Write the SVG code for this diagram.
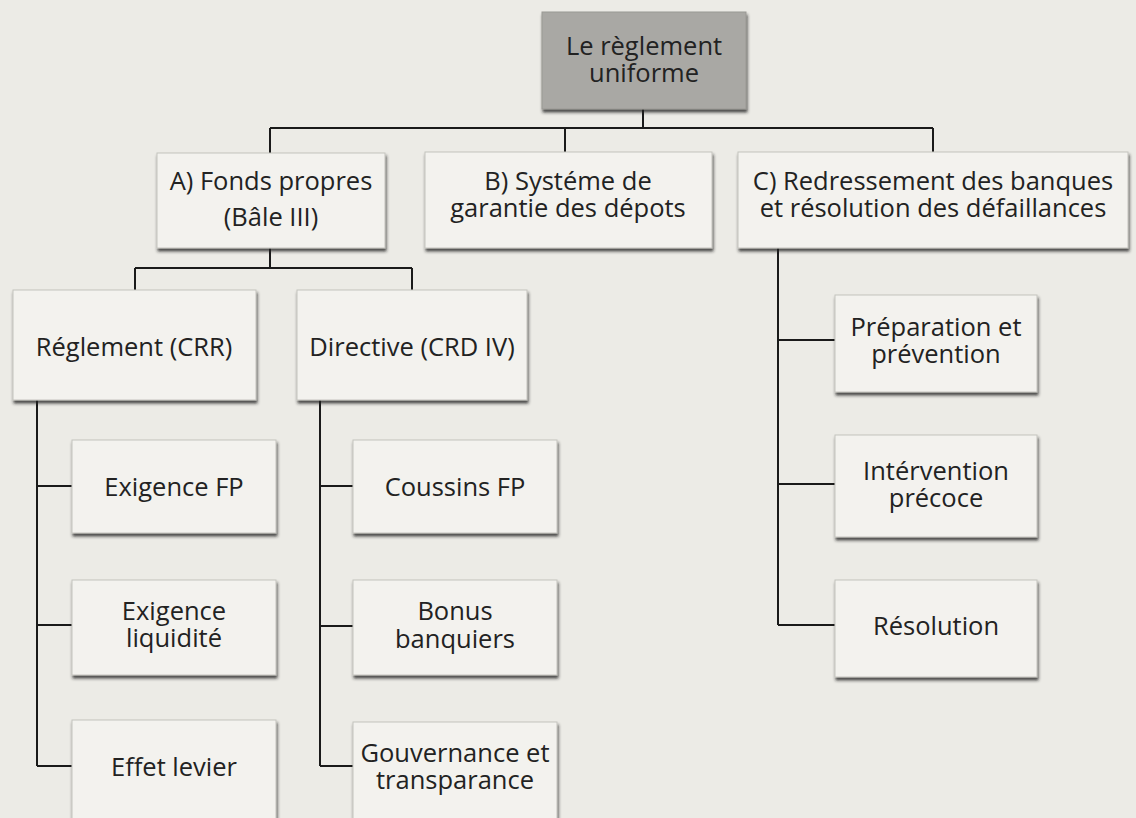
<svg xmlns="http://www.w3.org/2000/svg" width="1136" height="818" viewBox="0 0 1136 818">
<defs>
<filter id="sh" x="-5%" y="-5%" width="115%" height="125%">
<feDropShadow dx="1" dy="3" stdDeviation="1.5" flood-color="#222" flood-opacity="0.8"/>
</filter>
<style>
.box{fill:#f3f2ee;stroke:#c4c3be;stroke-width:1;filter:url(#sh)}
.root{fill:#a9a8a4;stroke:#9a9994;stroke-width:1;filter:url(#sh)}
.t{font-family:"Open Sans","Liberation Sans",sans-serif;font-size:25.5px;fill:#222;text-anchor:middle}
.c{stroke:#1a1a1a;stroke-width:2;fill:none}
</style>
</defs>
<rect width="1136" height="818" fill="#ecebe6"/>
<g id="connectors">
<path class="c" d="M643,109V128M270,128H933M270,128V153M565,128V152M933,128V152"/>
<path class="c" d="M270,248V268M135,268H412M135,268V290M412,268V290"/>
<path class="c" d="M37,400V766M37,486H72M37,625H72M37,766H72"/>
<path class="c" d="M320,400V766M320,486H353M320,626H353M320,766H353"/>
<path class="c" d="M778,248V625M778,340H835M778,484H835M778,625H835"/>
</g>
<g id="n-root"><rect class="root" x="542" y="12" width="204" height="97"/><text class="t" x="644" y="55">Le règlement</text><text class="t" x="644" y="82">uniforme</text></g>
<g id="n-a"><rect class="box" x="157" y="153" width="228" height="95"/><text class="t" x="271" y="190">A) Fonds propres</text><text class="t" x="271" y="226">(Bâle III)</text></g>
<g id="n-b"><rect class="box" x="425" y="152" width="287" height="96"/><text class="t" x="568" y="190">B) Systéme de</text><text class="t" x="568" y="217">garantie des dépots</text></g>
<g id="n-c"><rect class="box" x="738" y="152" width="390" height="96"/><text class="t" x="933" y="190">C) Redressement des banques</text><text class="t" x="933" y="217">et résolution des défaillances</text></g>
<g id="n-crr"><rect class="box" x="13" y="290" width="243" height="110"/><text class="t" x="134" y="356">Réglement (CRR)</text></g>
<g id="n-crd"><rect class="box" x="297" y="290" width="230" height="110"/><text class="t" x="412" y="356">Directive (CRD IV)</text></g>
<g id="n-efp"><rect class="box" x="72" y="440" width="204" height="93"/><text class="t" x="174" y="496">Exigence FP</text></g>
<g id="n-eliq"><rect class="box" x="72" y="580" width="204" height="95"/><text class="t" x="174" y="620">Exigence</text><text class="t" x="174" y="647">liquidité</text></g>
<g id="n-lev"><rect class="box" x="72" y="720" width="204" height="110"/><text class="t" x="174" y="776">Effet levier</text></g>
<g id="n-cfp"><rect class="box" x="353" y="440" width="204" height="93"/><text class="t" x="455" y="496">Coussins FP</text></g>
<g id="n-bonus"><rect class="box" x="353" y="580" width="204" height="95"/><text class="t" x="455" y="620">Bonus</text><text class="t" x="455" y="648">banquiers</text></g>
<g id="n-gouv"><rect class="box" x="353" y="722" width="204" height="110"/><text class="t" x="455" y="762">Gouvernance et</text><text class="t" x="455" y="789">transparance</text></g>
<g id="n-prep"><rect class="box" x="835" y="295" width="202" height="97"/><text class="t" x="936" y="336">Préparation et</text><text class="t" x="936" y="363">prévention</text></g>
<g id="n-int"><rect class="box" x="835" y="435" width="202" height="102"/><text class="t" x="936" y="480">Intérvention</text><text class="t" x="936" y="507">précoce</text></g>
<g id="n-res"><rect class="box" x="835" y="580" width="202" height="97"/><text class="t" x="936" y="635">Résolution</text></g>
</svg>
